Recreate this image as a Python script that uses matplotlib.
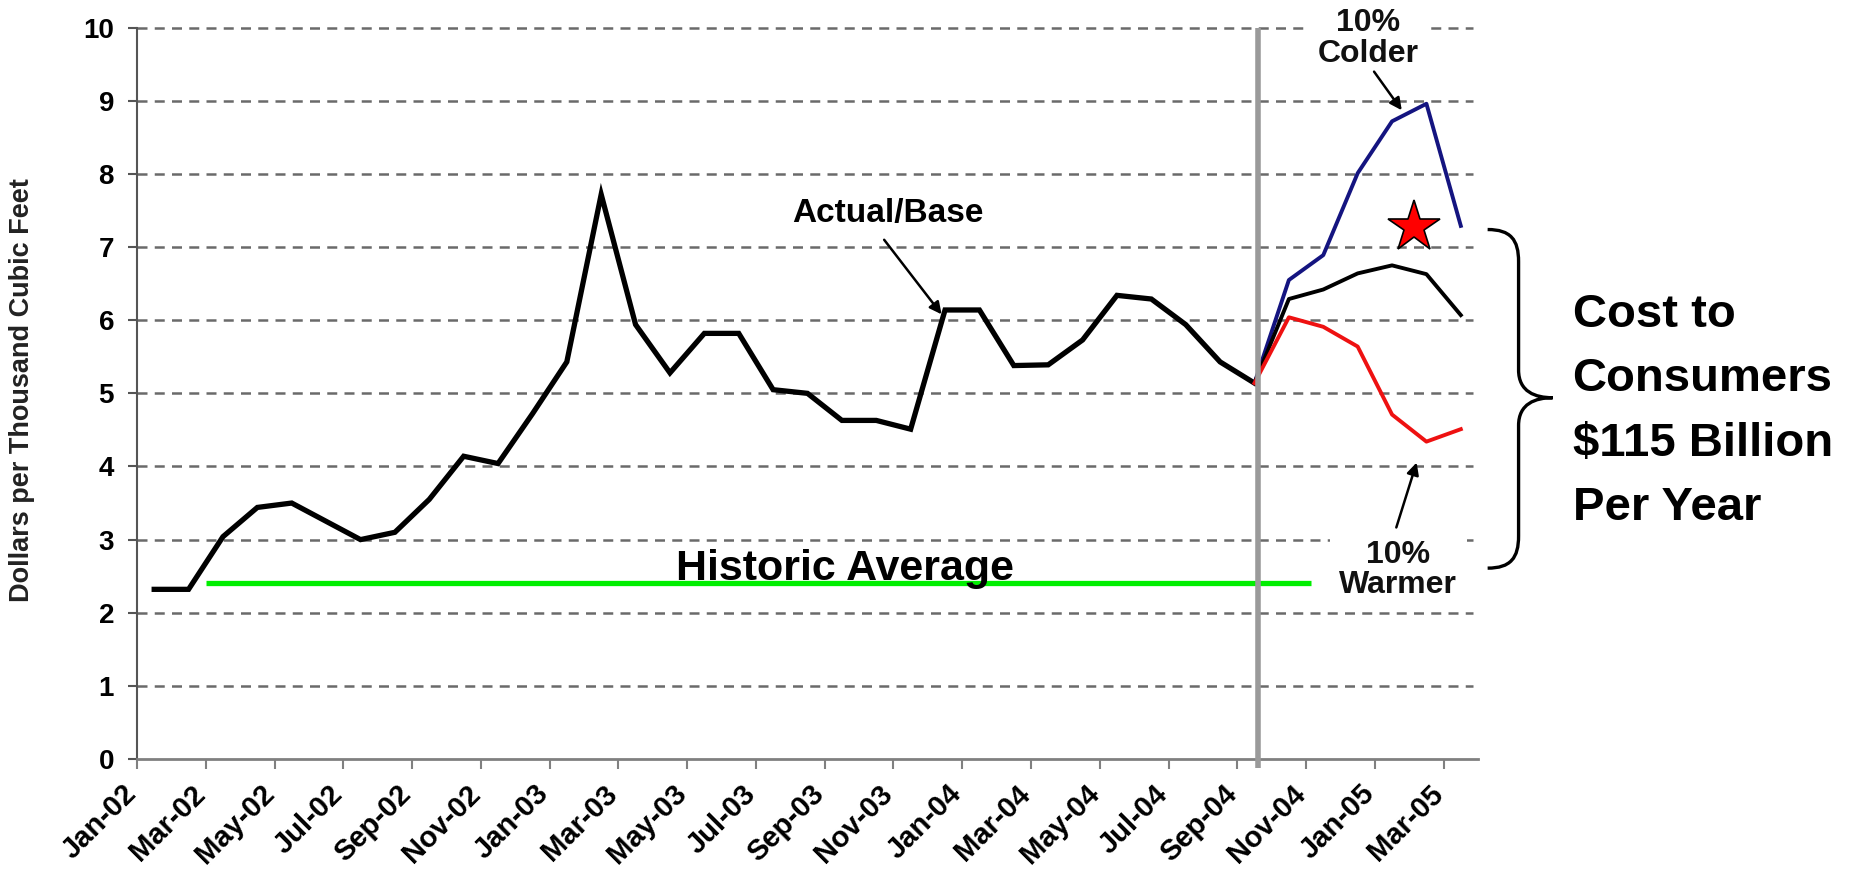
import numpy as np
import pandas as pd
import matplotlib
matplotlib.use("Agg")
import matplotlib.pyplot as plt
from matplotlib.path import Path
from matplotlib.patches import PathPatch
from matplotlib.transforms import ScaledTranslation

plt.rcParams['font.family'] = ['Liberation Sans', 'DejaVu Sans']

# ---------------- data ----------------
months = list(pd.date_range('2002-01-01', periods=39, freq='MS').strftime('%b-%y'))
actual = [2.32, 2.32, 3.04, 3.44, 3.50, 3.25, 3.00, 3.10, 3.55, 4.14, 4.04, 4.72,
          5.43, 7.72, 5.94, 5.28, 5.82, 5.82, 5.05, 5.00, 4.63, 4.63, 4.51, 6.14,
          6.14, 5.38, 5.39, 5.73, 6.34, 6.29, 5.94, 5.43, 5.14]
proj_months = months[32:39]   # Sep-04 .. Mar-05
colder = [5.14, 6.55, 6.89, 8.01, 8.72, 8.96, 7.29]
base = [5.14, 6.29, 6.42, 6.64, 6.75, 6.63, 6.07]
warmer = [5.14, 6.04, 5.91, 5.64, 4.71, 4.34, 4.51]
historic_avg = 2.40
hist_start, hist_end = 2.0, 34.15
forecast_divider = 32.6
star_x, star_y = 37.15, 7.28
tick_labels = months[::2]

# ---------------- figure ----------------
W, H = 1854, 871
fig = plt.figure(figsize=(W / 100, H / 100), dpi=100)
L, R, B, T = 137, 1478, 759, 27.7
ax = fig.add_axes([L / W, 1 - B / H, (R - L) / W, (B - T) / H])
ax.set_xlim(0, len(months))
ax.set_ylim(0, 10)

xa = np.arange(len(actual)) + 0.5
xp = np.arange(32, 39) + 0.5

# gridlines
for yv in range(1, 11):
    ax.axhline(yv, xmin=0, xmax=0.996, color='#6a6a6a', lw=1.8,
               linestyle=(0, (4, 2.9)), zorder=1, clip_on=False)

# spines
for s in ['top', 'right']:
    ax.spines[s].set_visible(False)
ax.spines['left'].set_color('#555555')
ax.spines['left'].set_linewidth(1.5)
ax.spines['bottom'].set_color('#808080')
ax.spines['bottom'].set_linewidth(2)

# ticks
ax.set_yticks(range(0, 11))
ax.set_yticklabels([str(v) for v in range(0, 11)], fontsize=20, fontweight='bold')
ax.tick_params(axis='y', length=6.5, width=1.5, color='#555555', pad=10)
ax.set_xticks(np.arange(0, len(months), 2))
ax.set_xticklabels(tick_labels, fontsize=21, fontweight='bold')
ax.tick_params(axis='x', length=7, width=1.5, color='#808080', pad=15)
off = ScaledTranslation(-5 / 100, 0, fig.dpi_scale_trans)
for lab in ax.get_xticklabels():
    lab.set_rotation(45)
    lab.set_ha('right')
    lab.set_va('center')
    lab.set_rotation_mode('anchor')
    lab.set_transform(lab.get_transform() + off)

# lines
ax.plot([hist_start, hist_end], [historic_avg, historic_avg], color='#00ee00', lw=3.8,
        solid_capstyle='butt', zorder=3)
ax.plot(xa, actual, color='black', lw=3.8, zorder=4, solid_joinstyle='miter')
ax.plot(xp, colder, color='#141480', lw=2.8, zorder=4)
ax.plot(xp, base, color='black', lw=2.8, zorder=4)
ax.plot(xp, warmer, color='#ee1111', lw=2.8, zorder=4)
ax.plot([forecast_divider, forecast_divider], [-0.12, 10], color='#9a9a9a', lw=4,
        zorder=5, clip_on=False, solid_capstyle='butt')

# star
ax.plot([star_x], [star_y], marker='*', ms=39, mfc='#ff0000', mec='black', mew=1.2,
        zorder=6, clip_on=False)

# annotations
ax.text(21.85, 7.46, 'Actual/Base', fontsize=24, fontweight='bold', ha='center',
        va='center', zorder=7)
ax.annotate('', xy=(23.45, 6.05), xytext=(21.68, 7.13),
            arrowprops=dict(arrowstyle='-|>', color='black', lw=1.8,
                            mutation_scale=18), zorder=7)

ax.text(35.8, 9.85, '10%\nColder', fontsize=23, fontweight='bold', ha='center',
        va='center', linespacing=1.05, zorder=7, color='#111111',
        bbox=dict(boxstyle='square,pad=0.35', fc='white', ec='none'))
ax.annotate('', xy=(36.83, 8.84), xytext=(35.93, 9.43),
            arrowprops=dict(arrowstyle='-|>', color='black', lw=1.8,
                            mutation_scale=18), zorder=7)

ax.text(36.68, 2.58, '10%\nWarmer', fontsize=23, fontweight='bold', ha='center',
        va='center', linespacing=1.0, zorder=7, color='#111111',
        bbox=dict(boxstyle='square,pad=0.3', fc='white', ec='none'))
ax.annotate('', xy=(37.24, 4.09), xytext=(36.6, 3.13),
            arrowprops=dict(arrowstyle='-|>', color='black', lw=1.8,
                            mutation_scale=18), zorder=7)

ax.text(20.6, 2.45, 'Historic Average', fontsize=31, fontweight='bold', ha='center',
        va='baseline', zorder=6)

# brace
verts = [(39.28, 7.24), (39.95, 7.24), (40.18, 7.10), (40.18, 6.80),
         (40.18, 5.32),
         (40.18, 5.02), (40.67, 4.94), (41.17, 4.94),
         (40.67, 4.94), (40.18, 4.86), (40.18, 4.56),
         (40.18, 3.05),
         (40.18, 2.75), (39.95, 2.61), (39.28, 2.61)]
codes = [Path.MOVETO, Path.CURVE4, Path.CURVE4, Path.CURVE4,
         Path.LINETO,
         Path.CURVE4, Path.CURVE4, Path.CURVE4,
         Path.CURVE4, Path.CURVE4, Path.CURVE4,
         Path.LINETO,
         Path.CURVE4, Path.CURVE4, Path.CURVE4]
ax.add_patch(PathPatch(Path(verts, codes), fc='none', ec='black', lw=2.4, clip_on=False))

for txt, yb in zip(['Cost to', 'Consumers', '$115 Billion', 'Per Year'],
                   [5.91, 5.03, 4.15, 3.27]):
    ax.text(41.75, yb, txt, fontsize=34, fontweight='bold', ha='left', va='baseline')

fig.text(22 / W, 1 - 390 / H, 'Dollars per Thousand Cubic Feet', rotation=90,
         fontsize=19.5, fontweight='bold', ha='center', va='center', color='#222222')

fig.savefig('out.png', dpi=100, facecolor='white')
